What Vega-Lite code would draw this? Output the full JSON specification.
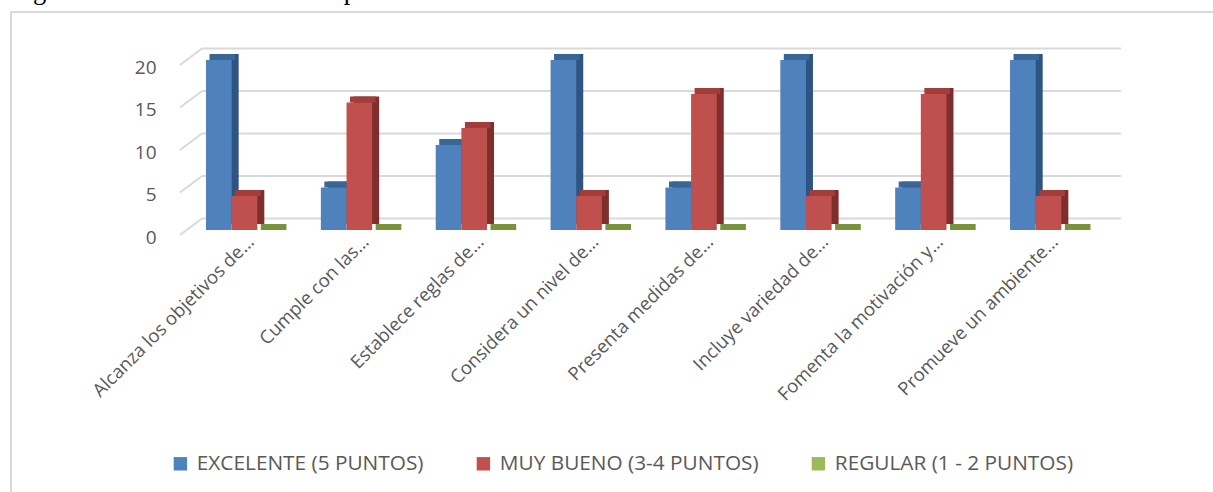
{
  "$schema": "https://vega.github.io/schema/vega-lite/v6.json",
  "width": 1207,
  "height": 485,
  "autosize": {"type": "none"},
  "padding": {"left": 11, "top": 12, "right": -5, "bottom": -5},
  "background": "white",
  "title": {
    "text": "Figura 19. Resultados de los expertos",
    "anchor": "start",
    "frame": "group",
    "font": "Liberation Serif",
    "fontSize": 26.5,
    "fontWeight": "normal",
    "color": "#000000",
    "baseline": "alphabetic",
    "offset": -13
  },
  "config": {
    "font": "Open Sans",
    "view": {"stroke": "#d9d9d9", "strokeWidth": 2},
    "axisX": {
      "offset": -265,
      "labelAngle": -45,
      "domain": false,
      "ticks": false,
      "tickSize": 0,
      "grid": false,
      "labelFont": "Open Sans",
      "labelFontSize": 18.5,
      "labelColor": "#595959",
      "labelPadding": 0,
      "labelLimit": 400
    },
    "axisY": {
      "offset": -149,
      "domain": false,
      "ticks": false,
      "tickSize": 0,
      "grid": false,
      "labelFont": "Open Sans",
      "labelFontSize": 19,
      "labelColor": "#595959",
      "labelPadding": 4,
      "labelOffset": 7
    }
  },
  "datasets": {
    "bars": [
      {"cat": "Alcanza los objetivos de…", "series": "EXCELENTE (5 PUNTOS)", "value": 20},
      {"cat": "Alcanza los objetivos de…", "series": "MUY BUENO (3-4 PUNTOS)", "value": 4},
      {"cat": "Alcanza los objetivos de…", "series": "REGULAR (1 - 2 PUNTOS)", "value": 0},
      {"cat": "Cumple con las…", "series": "EXCELENTE (5 PUNTOS)", "value": 5},
      {"cat": "Cumple con las…", "series": "MUY BUENO (3-4 PUNTOS)", "value": 15},
      {"cat": "Cumple con las…", "series": "REGULAR (1 - 2 PUNTOS)", "value": 0},
      {"cat": "Establece reglas de…", "series": "EXCELENTE (5 PUNTOS)", "value": 10},
      {"cat": "Establece reglas de…", "series": "MUY BUENO (3-4 PUNTOS)", "value": 12},
      {"cat": "Establece reglas de…", "series": "REGULAR (1 - 2 PUNTOS)", "value": 0},
      {"cat": "Considera un nivel de…", "series": "EXCELENTE (5 PUNTOS)", "value": 20},
      {"cat": "Considera un nivel de…", "series": "MUY BUENO (3-4 PUNTOS)", "value": 4},
      {"cat": "Considera un nivel de…", "series": "REGULAR (1 - 2 PUNTOS)", "value": 0},
      {"cat": "Presenta medidas de…", "series": "EXCELENTE (5 PUNTOS)", "value": 5},
      {"cat": "Presenta medidas de…", "series": "MUY BUENO (3-4 PUNTOS)", "value": 16},
      {"cat": "Presenta medidas de…", "series": "REGULAR (1 - 2 PUNTOS)", "value": 0},
      {"cat": "Incluye variedad de…", "series": "EXCELENTE (5 PUNTOS)", "value": 20},
      {"cat": "Incluye variedad de…", "series": "MUY BUENO (3-4 PUNTOS)", "value": 4},
      {"cat": "Incluye variedad de…", "series": "REGULAR (1 - 2 PUNTOS)", "value": 0},
      {"cat": "Fomenta la motivación y…", "series": "EXCELENTE (5 PUNTOS)", "value": 5},
      {"cat": "Fomenta la motivación y…", "series": "MUY BUENO (3-4 PUNTOS)", "value": 16},
      {"cat": "Fomenta la motivación y…", "series": "REGULAR (1 - 2 PUNTOS)", "value": 0},
      {"cat": "Promueve un ambiente…", "series": "EXCELENTE (5 PUNTOS)", "value": 20},
      {"cat": "Promueve un ambiente…", "series": "MUY BUENO (3-4 PUNTOS)", "value": 4},
      {"cat": "Promueve un ambiente…", "series": "REGULAR (1 - 2 PUNTOS)", "value": 0}
    ],
    "grid": [{"v": 0}, {"v": 5}, {"v": 10}, {"v": 15}, {"v": 20}]
  },
  "layer": [
    {
      "data": {"name": "grid"},
      "mark": {"type": "rule", "color": "#d9d9d9", "strokeWidth": 2, "xOffset": -4, "x2Offset": 111, "yOffset": -11.5, "y2Offset": -11.5},
      "encoding": {
        "x": {"datum": "Alcanza los objetivos de…", "type": "nominal", "bandPosition": 0, "title": null,
          "scale": {"domain": ["Alcanza los objetivos de…", "Cumple con las…", "Establece reglas de…", "Considera un nivel de…", "Presenta medidas de…", "Incluye variedad de…", "Fomenta la motivación y…", "Promueve un ambiente…"], "range": [195, 1076], "paddingInner": 0.33, "paddingOuter": 0}},
        "x2": {"datum": "Promueve un ambiente…", "bandPosition": 0},
        "y": {"field": "v", "type": "quantitative", "title": null, "scale": {"domain": [-31.41, 25.647], "nice": false, "zero": false}, "axis": {"values": [0, 5, 10, 15, 20]}},
        "y2": {"field": "v"}
      }
    },
    {
      "data": {"name": "grid"},
      "mark": {"type": "rule", "color": "#d9d9d9", "strokeWidth": 2, "xOffset": -26, "x2Offset": -4, "yOffset": 5, "y2Offset": -11.5},
      "encoding": {
        "x": {"datum": "Alcanza los objetivos de…", "type": "nominal", "bandPosition": 0, "title": null},
        "x2": {"datum": "Alcanza los objetivos de…", "bandPosition": 0},
        "y": {"field": "v", "type": "quantitative", "title": null},
        "y2": {"field": "v"}
      }
    },
    {
      "data": {"name": "bars"},
      "mark": {"type": "bar", "yOffset": -6, "y2Offset": -6},
      "encoding": {
        "x": {"field": "cat", "type": "nominal", "title": null},
        "xOffset": {"field": "series", "type": "nominal", "scale": {"domain": ["EXCELENTE (5 PUNTOS)", "MUY BUENO (3-4 PUNTOS)", "REGULAR (1 - 2 PUNTOS)"], "range": [7, 83.96], "paddingInner": 0, "paddingOuter": 0}},
        "y": {"field": "value", "type": "quantitative", "title": null},
        "y2": {"datum": 0},
        "color": {"field": "series", "type": "nominal", "legend": null, "scale": {"domain": ["EXCELENTE (5 PUNTOS)", "MUY BUENO (3-4 PUNTOS)", "REGULAR (1 - 2 PUNTOS)"], "range": ["#2E5481", "#7E2F2D", "#6F8A38"]}}
      }
    },
    {
      "data": {"name": "bars"},
      "mark": {"type": "bar", "yOffset": -6, "y2Offset": 0},
      "encoding": {
        "x": {"field": "cat", "type": "nominal", "title": null},
        "xOffset": {"field": "series", "type": "nominal", "scale": {"domain": ["EXCELENTE (5 PUNTOS)", "MUY BUENO (3-4 PUNTOS)", "REGULAR (1 - 2 PUNTOS)"], "range": [3.5, 80.46], "paddingInner": 0, "paddingOuter": 0}},
        "y": {"field": "value", "type": "quantitative", "title": null},
        "y2": {"field": "value"},
        "color": {"field": "series", "type": "nominal", "legend": null, "scale": {"domain": ["EXCELENTE (5 PUNTOS)", "MUY BUENO (3-4 PUNTOS)", "REGULAR (1 - 2 PUNTOS)"], "range": ["#3A6597", "#A13D3A", "#77933C"]}}
      }
    },
    {
      "data": {"name": "bars"},
      "mark": {"type": "bar"},
      "encoding": {
        "x": {"field": "cat", "type": "nominal", "title": null},
        "xOffset": {"field": "series", "type": "nominal", "scale": {"domain": ["EXCELENTE (5 PUNTOS)", "MUY BUENO (3-4 PUNTOS)", "REGULAR (1 - 2 PUNTOS)"], "paddingInner": 0, "paddingOuter": 0}},
        "y": {"field": "value", "type": "quantitative", "title": null},
        "y2": {"datum": 0},
        "color": {"field": "series", "type": "nominal",
          "scale": {"domain": ["EXCELENTE (5 PUNTOS)", "MUY BUENO (3-4 PUNTOS)", "REGULAR (1 - 2 PUNTOS)"], "range": ["#4F81BD", "#C0504D", "#9BBB59"]},
          "legend": {"orient": "none", "legendX": 159, "legendY": 441, "direction": "horizontal", "title": null, "symbolType": "square", "symbolSize": 180, "symbolStrokeWidth": 0, "labelFont": "Open Sans", "labelFontSize": 20.8, "labelColor": "#595959", "labelLimit": 400, "columnPadding": 49, "labelOffset": 6, "padding": 0}}
      }
    }
  ],
  "resolve": {"scale": {"color": "independent", "xOffset": "independent"}}
}
